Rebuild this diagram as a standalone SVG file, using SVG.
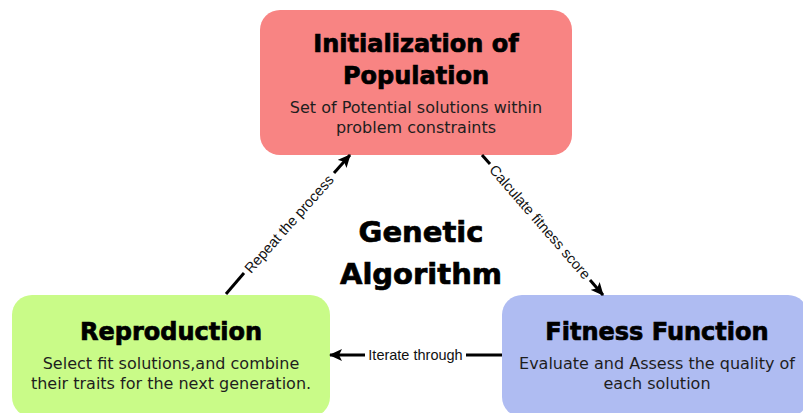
<svg xmlns="http://www.w3.org/2000/svg" width="803" height="413" viewBox="0 0 803 413">
  <style>
    .title { font-family: "DejaVu Sans", "Liberation Sans", sans-serif; font-weight: bold; font-size: 24px; fill: #000; text-anchor: middle; stroke: #000; stroke-width: 0.7; }
    .body { font-family: "DejaVu Sans", "Liberation Sans", sans-serif; font-size: 16px; fill: #1e1e1e; text-anchor: middle; }
    .center { font-family: "DejaVu Sans", "Liberation Sans", sans-serif; font-weight: bold; font-size: 29px; fill: #000; text-anchor: middle; stroke: #000; stroke-width: 0.7; }
    .edge { fill: none; stroke: #000; stroke-width: 3; }
    .elabel { font-family: "Liberation Sans", "DejaVu Sans", sans-serif; font-size: 14.5px; fill: #111; text-anchor: middle; }
  </style>
  <defs>
    <marker id="head" markerUnits="userSpaceOnUse" markerWidth="14" markerHeight="12" refX="12" refY="6" orient="auto">
      <path d="M0,0 L13,6 L0,12 L3,6 Z" fill="#000"/>
    </marker>
  </defs>

  <rect x="0" y="0" width="803" height="413" fill="#fff"/>

  <g id="init">
    <rect x="260" y="10" width="312" height="145" rx="20" fill="#F88483"/>
    <text class="title" x="416" y="52">Initialization of</text>
    <text class="title" x="416" y="84">Population</text>
    <text class="body" x="416" y="113">Set of Potential solutions within</text>
    <text class="body" x="416" y="133">problem constraints</text>
  </g>

  <g id="reproduction">
    <rect x="12" y="295" width="318" height="122" rx="20" fill="#C9FB88"/>
    <text class="title" x="171" y="340">Reproduction</text>
    <text class="body" x="171" y="369">Select fit solutions,and combine</text>
    <text class="body" x="171" y="389">their traits for the next generation.</text>
  </g>

  <g id="fitness">
    <rect x="502" y="295" width="306" height="122" rx="20" fill="#AFBCF2"/>
    <text class="title" x="657" y="340">Fitness Function</text>
    <text class="body" x="657" y="369">Evaluate and Assess the quality of</text>
    <text class="body" x="657" y="389">each solution</text>
  </g>

  <g id="label">
    <text class="center" x="421" y="242">Genetic</text>
    <text class="center" x="421" y="284">Algorithm</text>
  </g>

  <g id="connectors">
    <!-- Reproduction to Initialization -->
    <path class="edge" d="M226,294 L244,273"/>
    <path class="edge" d="M334,173 L350,155" marker-end="url(#head)"/>
    <text class="elabel" transform="translate(289,224) rotate(-48.3)" y="5">Repeat the process</text>

    <!-- Initialization to Fitness -->
    <path class="edge" d="M482,155 L490,164"/>
    <path class="edge" d="M590,280 L603,295" marker-end="url(#head)"/>
    <text class="elabel" transform="translate(540,222) rotate(49)" y="5">Calculate fitness score</text>

    <!-- Fitness to Reproduction -->
    <path class="edge" d="M502,355 L466,355"/>
    <path class="edge" d="M365,355 L330,355" marker-end="url(#head)"/>
    <text class="elabel" x="415.5" y="360">Iterate through</text>
  </g>
</svg>
